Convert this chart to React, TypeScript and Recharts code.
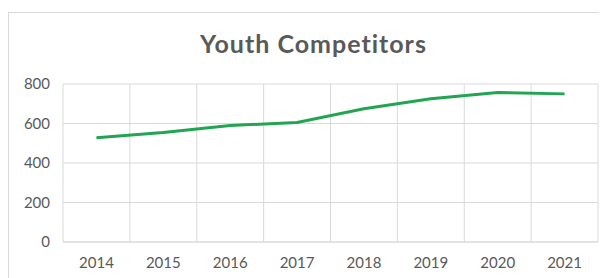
import { LineChart, Line, XAxis, YAxis, CartesianGrid } from "recharts";

const years = ["2014", "2015", "2016", "2017", "2018", "2019", "2020", "2021"];
const competitors = [528, 555, 590, 605, 675, 725, 757, 750];
const yTicks = [0, 200, 400, 600, 800];

const data = years.map((year, i) => ({ idx: i, year, competitors: competitors[i] }));
const centerTicks = years.map((_, i) => i);
const boundaryTicks = [...years.map((_, i) => i - 0.5), years.length - 0.5];

const FONT = "Lato, 'Open Sans', sans-serif";
const TEXT = "#595959";

export default function App() {
  return (
    <div
      style={{
        position: "relative",
        width: 597,
        height: 265,
        marginTop: 4,
        border: "1px solid #d9d9d9",
        background: "#fff",
        fontFamily: FONT,
      }}
    >
      <div
        style={{
          position: "absolute",
          top: 15,
          left: 6,
          width: 597,
          textAlign: "center",
          fontSize: 25,
          fontWeight: 700,
          letterSpacing: 1,
          color: TEXT,
        }}
      >
        Youth Competitors
      </div>
      <LineChart
        width={597}
        height={265}
        data={data}
        margin={{ top: 71, right: 8, left: 0, bottom: 6 }}
      >
        <CartesianGrid stroke="#d9d9d9" xAxisId="grid" />
        <XAxis
          xAxisId="grid"
          dataKey="idx"
          type="number"
          domain={[-0.5, years.length - 0.5]}
          ticks={boundaryTicks}
          hide
        />
        <XAxis
          dataKey="idx"
          type="number"
          domain={[-0.5, years.length - 0.5]}
          ticks={centerTicks}
          tickFormatter={(v: number) => years[v] ?? ""}
          interval={0}
          height={30}
          tickSize={0}
          tickMargin={15}
          axisLine={{ stroke: "#d9d9d9" }}
          tick={{ fill: TEXT, fontSize: 15, fontFamily: FONT }}
        />
        <YAxis
          width={54}
          domain={[0, 800]}
          ticks={yTicks}
          axisLine={false}
          tickSize={0}
          tickMargin={13}
          tick={{ fill: TEXT, fontSize: 15, fontFamily: FONT }}
        />
        <Line
          type="linear"
          dataKey="competitors"
          stroke="#21a552"
          strokeWidth={3}
          dot={false}
          isAnimationActive={false}
        />
      </LineChart>
    </div>
  );
}
